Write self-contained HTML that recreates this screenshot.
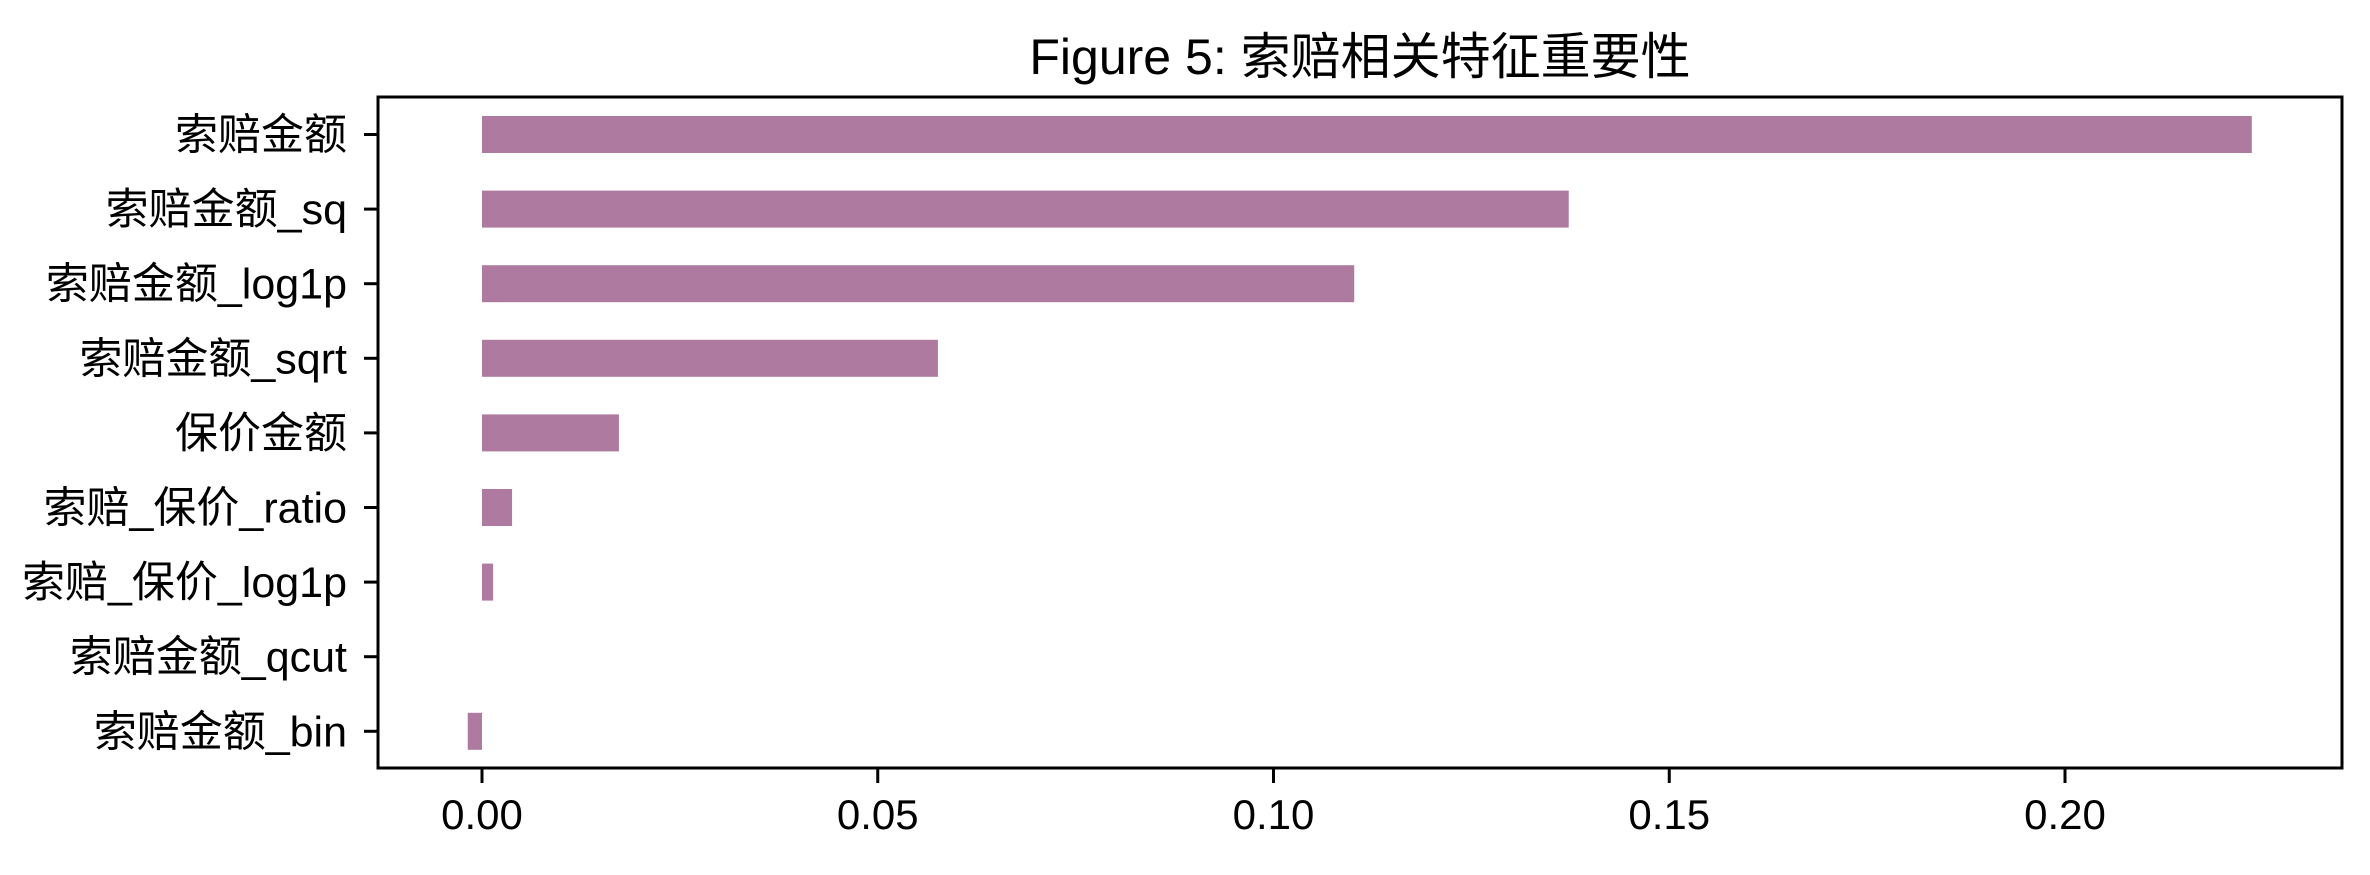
<!DOCTYPE html>
<html><head><meta charset="utf-8"><style>
html,body{margin:0;padding:0;background:#fff;}
svg text{font-family:"Liberation Sans","Noto Sans CJK SC",sans-serif;fill:#000;}
</style></head><body>
<svg id="chart" width="2370" height="870" xmlns="http://www.w3.org/2000/svg">
<text x="1360" y="74" font-size="50" text-anchor="middle">Figure 5: 索赔相关特征重要性</text>
<g id="bars"></g>
<g id="yaxis"></g>
<g id="xaxis"></g>
<rect x="378" y="97" width="1964" height="671" fill="none" stroke="#000" stroke-width="3"/>
</svg>
<script>
const categories = ["索赔金额","索赔金额_sq","索赔金额_log1p","索赔金额_sqrt","保价金额","索赔_保价_ratio","索赔_保价_log1p","索赔金额_qcut","索赔金额_bin"];
const values = [0.2236,0.1373,0.1102,0.0576,0.0173,0.0038,0.0014,0.0,-0.0018];
const xTicks = [0.00,0.05,0.10,0.15,0.20];
const xTickLabels = ["0.00","0.05","0.10","0.15","0.20"];

const NS="http://www.w3.org/2000/svg";
const x0=482, pxPerUnit=7915;
function xScale(v){return x0+v*pxPerUnit;}
const yTop=134.5, yStep=74.6, barH=37;
function yScale(i){return yTop+i*yStep;}
function mk(tag,attrs,parent){const e=document.createElementNS(NS,tag);for(const k in attrs)e.setAttribute(k,attrs[k]);parent.appendChild(e);return e;}
const gb=document.getElementById('bars'),gy=document.getElementById('yaxis'),gx=document.getElementById('xaxis');
values.forEach((v,i)=>{
  const a=xScale(Math.min(0,v)),b=xScale(Math.max(0,v));
  const r=mk('rect',{x:a,y:yScale(i)-barH/2,width:Math.max(0,b-a),height:barH,fill:'#ae7aa0'},gb);
  
  
});
categories.forEach((c,i)=>{
  const y=yScale(i);
  const t=mk('line',{x1:364,x2:378,y1:y,y2:y,stroke:'#000','stroke-width':3},gy);
  
  
  const l=mk('text',{x:347,y:y+15,'font-size':43,'text-anchor':'end'},gy);
  l.textContent=c;
  
  
});
xTicks.forEach((v,i)=>{
  const x=xScale(v);
  const t=mk('line',{x1:x,x2:x,y1:768,y2:783,stroke:'#000','stroke-width':3},gx);
  
  
  const l=mk('text',{x:x,y:829,'font-size':42,'text-anchor':'middle'},gx);
  l.textContent=xTickLabels[i];
  
  
});
</script>
</body></html>
